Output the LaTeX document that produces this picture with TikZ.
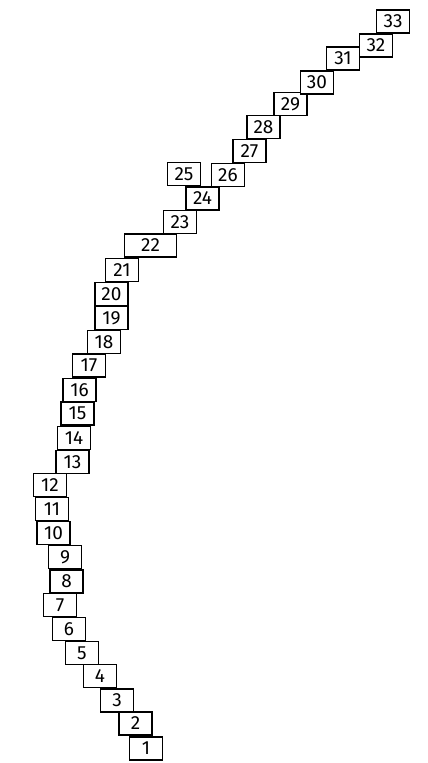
\documentclass[tikz,border=0pt]{standalone}
\usepackage{fontspec}
\setsansfont{Fira Sans}
\usetikzlibrary{positioning}

\begin{document}
\begin{tikzpicture}[x=1pt, y=-1pt, font=\sffamily\fontsize{19}{19}\selectfont]
  \definecolor{ink}{HTML}{000000}
  \tikzset{tile/.style={draw=ink, line width=1.9pt, fill=white, inner sep=0pt,
      minimum width=33pt, minimum height=23pt, text=ink}}
  \useasboundingbox[fill=white] (0,0) rectangle (428,763);

  % lower run, bending left
  \node[tile] (t1)  at (146,748.5) {1};
  \node[tile] (t2)  at (135.5,723.5) {2};
  \node[tile] (t3)  at (117,700.5) {3};
  \node[tile] (t4)  at (100,676) {4};
  \node[tile] (t5)  at (82,653) {5};
  \node[tile] (t6)  at (69,629) {6};
  \node[tile] (t7)  at (60,605) {7};
  \node[tile] (t8)  at (66.5,581.5) {8};
  \node[tile] (t9)  at (65,557) {9};
  \node[tile] (t10) at (53.5,533) {10};
  \node[tile] (t11) at (52,509) {11};
  \node[tile] (t12) at (50,485) {12};

  % middle run
  \node[tile] (t13) at (72.5,462) {13};
  \node[tile] (t14) at (74,438) {14};
  \node[tile] (t15) at (77.5,413.5) {15};
  \node[tile] (t16) at (79.5,390) {16};
  \node[tile] (t17) at (89,365.5) {17};
  \node[tile] (t18) at (104,342) {18};
  \node[tile] (t19) at (111.5,318) {19};
  \node[tile] (t20) at (111.5,294) {20};
  \node[tile] (t21) at (122,270) {21};
  \node[tile, minimum width=52pt] (t22) at (150.5,245.5) {22};
  \node[tile] (t23) at (180,222) {23};
  \node[tile] (t24) at (202.5,198.5) {24};
  \node[tile] (t25) at (184,174) {25};

  % upper run, to the top right
  \node[tile] (t26) at (228,175) {26};
  \node[tile] (t27) at (249.5,151) {27};
  \node[tile] (t28) at (263.5,127) {28};
  \node[tile] (t29) at (290.5,104) {29};
  \node[tile] (t30) at (317,82.5) {30};
  \node[tile] (t31) at (343,58.5) {31};
  \node[tile] (t32) at (376,45.5) {32};
  \node[tile] (t33) at (393,21.5) {33};
\end{tikzpicture}
\end{document}
